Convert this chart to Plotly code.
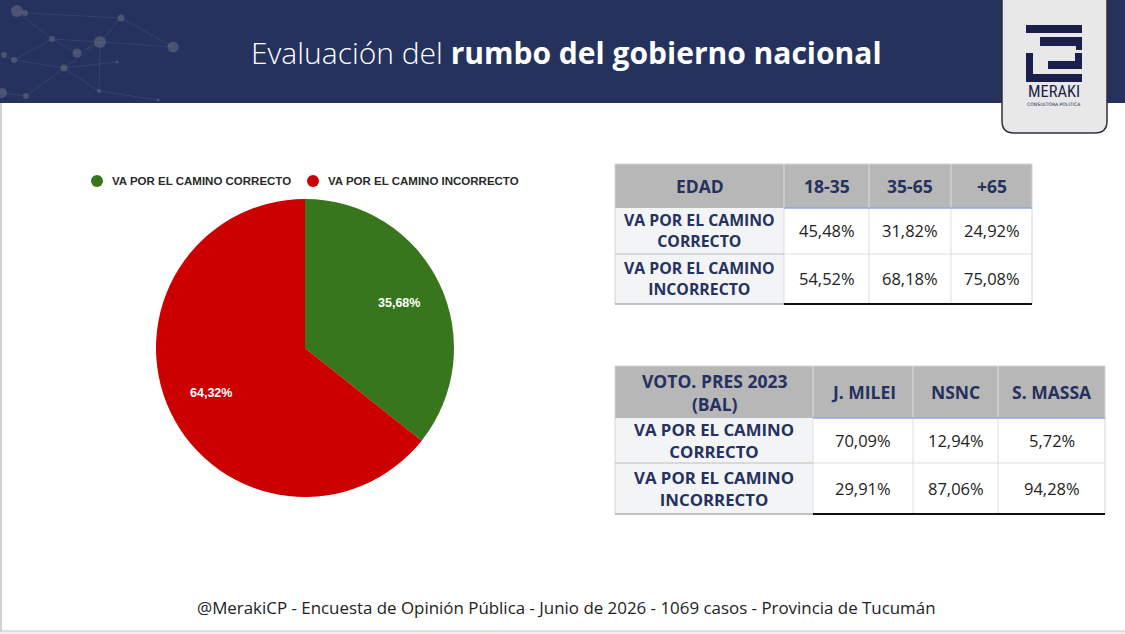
import math
import plotly.graph_objects as go

W, H = 1125, 634

# ---------------- data ----------------
pie_labels = ["VA POR EL CAMINO CORRECTO", "VA POR EL CAMINO INCORRECTO"]
pie_values = [35.68, 64.32]
pie_colors = ["#38761d", "#cc0000"]

row_labels = ["VA POR EL CAMINO<br>CORRECTO", "VA POR EL CAMINO<br>INCORRECTO"]

edad_header = "EDAD"
edad_groups = ["18-35", "35-65", "+65"]
edad_correcto = [45.48, 31.82, 24.92]
edad_incorrecto = [54.52, 68.18, 75.08]

voto_header = "VOTO. PRES 2023<br>(BAL)"
voto_groups = ["J. MILEI", "NSNC", "S. MASSA"]
voto_correcto = [70.09, 12.94, 5.72]
voto_incorrecto = [29.91, 87.06, 94.28]

title_light = "Evaluación del "
title_bold = "rumbo del gobierno nacional"
footer_text = "@MerakiCP - Encuesta de Opinión Pública - Junio de 2026 - 1069 casos - Provincia de Tucumán"

# ---------------- helpers ----------------
NAVY_TXT = "#25315e"
FONT = "Open Sans, Lato, DejaVu Sans, sans-serif"


def fx(x):
    return x / W


def fy(y):
    return 1 - y / H


shapes = []
annotations = []


def rect(x0, y0, x1, y1, fill, line_color=None, lw=0, layer="below"):
    shapes.append(dict(type="rect", xref="paper", yref="paper",
                       x0=fx(x0), x1=fx(x1), y0=fy(y1), y1=fy(y0),
                       fillcolor=fill, layer=layer,
                       line=dict(width=lw, color=line_color or "rgba(0,0,0,0)")))


def seg(x0, y0, x1, y1, color, lw=1, layer="above"):
    shapes.append(dict(type="line", xref="paper", yref="paper",
                       x0=fx(x0), x1=fx(x1), y0=fy(y0), y1=fy(y1),
                       line=dict(color=color, width=lw), layer=layer))


def circ(cx, cy, r, fill, layer="above"):
    shapes.append(dict(type="circle", xref="paper", yref="paper",
                       x0=fx(cx - r), x1=fx(cx + r), y0=fy(cy + r), y1=fy(cy - r),
                       fillcolor=fill, line=dict(width=0), layer=layer))


def text(x, y, s, size, color, xanchor="center", bold=False, family=FONT):
    annotations.append(dict(xref="paper", yref="paper", x=fx(x), y=fy(y),
                            text=(f"<b>{s}</b>" if bold else s), showarrow=False,
                            xanchor=xanchor, yanchor="middle", align="center",
                            font=dict(family=family, size=size, color=color)))


def pct(v):
    return f"{v:.2f}%".replace(".", ",")


# ---------------- page frame ----------------
rect(0, 0, W, 103, "#24325d")
# network decoration
nodes = [(17, 11, 6), (25, 13, 3), (52, 39, 3), (100, 42, 6), (77, 53, 4.5),
         (121, 18, 3.5), (173, 47, 5.5), (64, 68, 3.5), (14, 60, 3), (4, 55, 3),
         (99, 91, 2), (117, 62, 1.5), (26, 96, 3), (2, 93, 5), (158, 100, 1.5)]
edges = [(1, 5), (2, 3), (3, 6), (3, 4), (4, 2), (7, 3), (7, 11), (7, 10),
         (10, 14), (8, 7), (8, 2), (5, 6), (0, 2), (12, 7), (9, 8), (13, 12),
         (3, 10), (5, 3)]
for a, b in edges:
    seg(nodes[a][0], nodes[a][1], nodes[b][0], nodes[b][1], "rgba(60,72,108,0.7)", 1, layer="below")
for cx, cy, r in nodes:
    circ(cx, cy, r, "rgba(100,105,128,0.6)", layer="below")

seg(1, 103, 1, 631, "#d2d2d2", 2, layer="below")
rect(0, 631, W, H, "#efefef")
seg(0, 631, W, 631, "#c8c8c8", 1, layer="below")

# logo
lp = (f"M {fx(1002)},{fy(-3)} L {fx(1002)},{fy(121)} "
      f"Q {fx(1002)},{fy(133)} {fx(1014)},{fy(133)} L {fx(1095)},{fy(133)} "
      f"Q {fx(1107)},{fy(133)} {fx(1107)},{fy(121)} L {fx(1107)},{fy(-3)} Z")
shapes.append(dict(type="path", xref="paper", yref="paper", path=lp,
                   fillcolor="#e8e8e8", line=dict(color="#2e3038", width=1.5), layer="above"))
LOGO = "#1b1f4b"
for (a, b, c, d) in [(1026, 25, 1082, 33), (1040, 37, 1082, 46), (1076, 46, 1082, 50),
                     (1048, 61, 1082, 69), (1075, 53, 1082, 69), (1026, 53, 1033, 82),
                     (1026, 74, 1082, 82)]:
    rect(a, b, c, d, LOGO, layer="above")
text(1054, 92, "MERAKI", 16.5, LOGO, family="Liberation Sans Narrow, Roboto Condensed, Roboto, sans-serif")
text(1054, 105, "CONSULTORA POLITICA", 4.6, LOGO, family="DejaVu Sans")

# title & footer
annotations.append(dict(xref="paper", yref="paper", x=fx(566), y=fy(52),
                        text=f"{title_light}<b>{title_bold}</b>", showarrow=False,
                        xanchor="center", yanchor="middle",
                        font=dict(family=FONT, size=30, color="white", weight=300)))
text(566, 607, footer_text, 16.9, "#222222")

# ---------------- pie legend ----------------
leg_x = [97, 313]
for i, lab in enumerate(pie_labels):
    circ(leg_x[i], 181, 6, pie_colors[i])
    text(leg_x[i] + 13, 181, lab, 11.5, "#2a2a2a", xanchor="left", bold=True,
         family="Liberation Sans, Arial, sans-serif")

# ---------------- pie labels (placed from the data's angles) ----------------
PIE_CX, PIE_CY, PIE_R = 305, 348, 149
total = sum(pie_values)
start = 0.0
for v in pie_values:
    mid = (start + v / 2) / total * 2 * math.pi
    start += v
    rr = 0.70 * PIE_R
    text(PIE_CX + rr * math.sin(mid), PIE_CY - rr * math.cos(mid), pct(v), 12.5, "white",
         bold=True, family="Liberation Sans, Arial, sans-serif")


# ---------------- tables ----------------
def draw_table(xe, ye, header, groups, vals_rows, hsize, lsize, vsize):
    x0, xend = xe[0], xe[-1]
    y0, yh, yend = ye[0], ye[1], ye[-1]
    rect(x0, y0, xend, yh, "#b7b7b7")
    rect(x0, yh, xe[1], yend, "#f3f4f6")
    rect(xe[1], yh, xend, yend, "#ffffff")
    for xx in xe[1:-1]:
        seg(xx, y0, xx, yend, "#dedede", 1)
    for yy in ye[2:-1]:
        seg(x0, yy, xend, yy, "#dedede", 1)
    seg(x0, ye[2], xe[1], ye[2], "#c8c8c8", 1)
    rect(x0, y0, xend, yend, "rgba(0,0,0,0)", "#d4d4d4", 1, layer="above")
    seg(xe[1], yh, xend, yh, "#8eaadb", 1.5)
    seg(x0, yend, xe[1], yend, "#b5b5b5", 1.5)
    seg(xe[1], yend, xend, yend, "#111111", 2)
    text((x0 + xe[1]) / 2, (y0 + yh) / 2, header, hsize, NAVY_TXT, bold=True)
    for j, g in enumerate(groups):
        text((xe[j + 1] + xe[j + 2]) / 2, (y0 + yh) / 2, g, hsize, NAVY_TXT, bold=True)
    for i, vals in enumerate(vals_rows):
        cy = (ye[i + 1] + ye[i + 2]) / 2
        text((x0 + xe[1]) / 2, cy, row_labels[i], lsize, NAVY_TXT, bold=True)
        for j, v in enumerate(vals):
            text((xe[j + 1] + xe[j + 2]) / 2, cy, pct(v), vsize, "#222222")


draw_table([615, 784, 869, 951, 1032], [164, 208, 254, 304], edad_header, edad_groups,
           [edad_correcto, edad_incorrecto], 17.5, 15.8, 16.5)
draw_table([615, 813, 913, 998, 1105], [366, 418, 463, 514], voto_header, voto_groups,
           [voto_correcto, voto_incorrecto], 17.5, 16.8, 16.5)

# ---------------- figure ----------------
fig = go.Figure(go.Pie(
    labels=pie_labels, values=pie_values,
    marker=dict(colors=pie_colors, line=dict(width=0)),
    sort=False, direction="clockwise", rotation=0,
    textinfo="none",
    domain=dict(x=[fx(156), fx(454)], y=[fy(497), fy(199)]),
    showlegend=False, hoverinfo="label+percent",
))
fig.update_layout(
    width=W, height=H, margin=dict(l=0, r=0, t=0, b=0),
    paper_bgcolor="white", plot_bgcolor="white",
    separators=",.", shapes=shapes, annotations=annotations,
    showlegend=False,
)
fig.write_html("out.html")
